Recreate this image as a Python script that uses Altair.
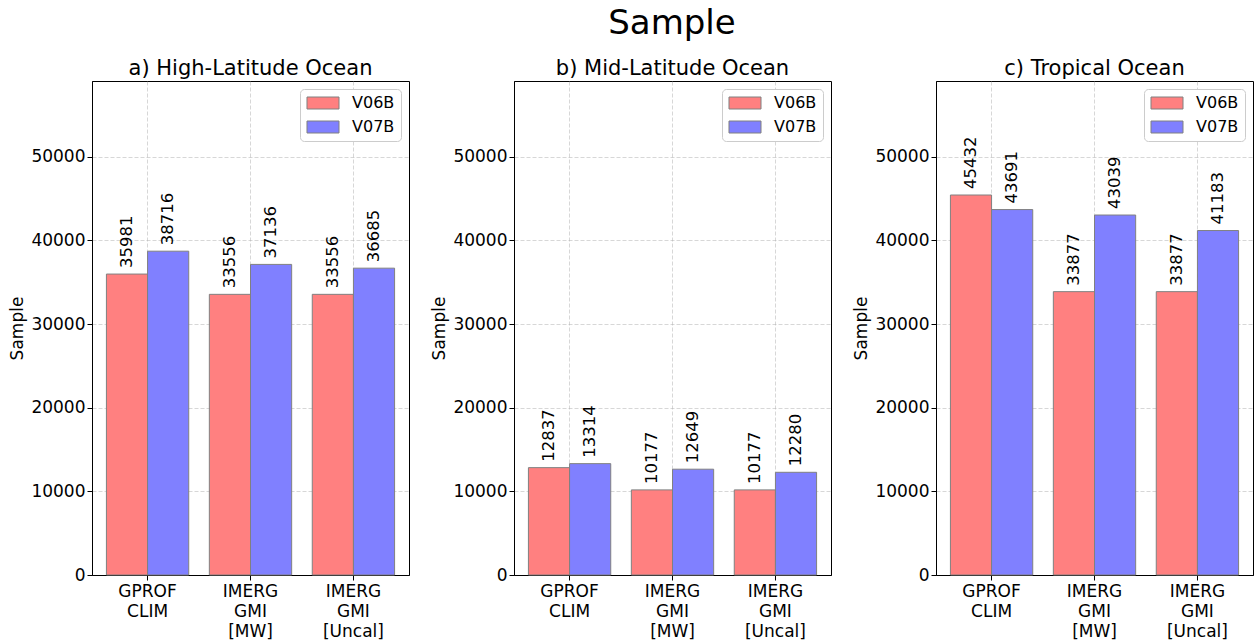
import altair as alt
import pandas as pd

FONT = "DejaVu Sans"

regions = ["a) High-Latitude Ocean", "b) Mid-Latitude Ocean", "c) Tropical Ocean"]
products = ["GPROF\nCLIM", "IMERG\nGMI\n[MW]", "IMERG\nGMI\n[Uncal]"]
versions = ["V06B", "V07B"]
v06b = [
    [35981, 33556, 33556],
    [12837, 10177, 10177],
    [45432, 33877, 33877],
]
v07b = [
    [38716, 37136, 36685],
    [13314, 12649, 12280],
    [43691, 43039, 41183],
]
y_ticks = [0, 10000, 20000, 30000, 40000, 50000]
y_max = 59062
colors = ["#ff8080", "#8080ff"]


def panel(i):
    rows = []
    for j, p in enumerate(products):
        rows.append({"product": p, "version": versions[0], "value": v06b[i][j]})
        rows.append({"product": p, "version": versions[1], "value": v07b[i][j]})
    df = pd.DataFrame(rows)
    base = alt.Chart(df).encode(
        x=alt.X(
            "product:N",
            sort=products,
            scale=alt.Scale(paddingInner=0.2, paddingOuter=0.14),
            axis=alt.Axis(
                title=None,
                labelAngle=0,
                labelExpr="split(datum.label, '\\n')",
                bandPosition=0.5,
                labelLineHeight=20,
                labelPadding=3,
                labelBaseline="top",
            ),
        ),
        xOffset=alt.XOffset("version:N", sort=versions),
        y=alt.Y(
            "value:Q",
            scale=alt.Scale(domain=[0, y_max], nice=False),
            axis=alt.Axis(values=y_ticks, title="Sample", format="d", titlePadding=4),
        ),
    )
    bars = base.mark_bar(stroke="#808080", strokeWidth=1).encode(
        color=alt.Color(
            "version:N",
            scale=alt.Scale(domain=versions, range=colors),
            legend=alt.Legend(
                title=None,
                orient="top-right",
                offset=8,
                symbolType="M-2.667,-1H2.667V1H-2.667Z",
                symbolSize=144,
                symbolOffset=9,
                symbolStrokeColor="#808080",
                symbolStrokeWidth=1,
                symbolOpacity=1,
                labelFontSize=16,
                labelFont=FONT,
                labelColor="black",
                labelOffset=21,
                fillColor="white",
                strokeColor="#cccccc",
                cornerRadius=4,
                padding=6,
                rowPadding=8,
            ),
        )
    )
    text = base.mark_text(
        angle=270, align="left", baseline="middle", dx=6, fontSize=16.5, font=FONT, color="black"
    ).encode(text=alt.Text("value:Q", format="d"))
    return alt.layer(bars, text).properties(
        width=317,
        height=494,
        title=alt.TitleParams(regions[i], fontSize=21, font=FONT, fontWeight="normal",
                              anchor="middle", frame="group", offset=2, color="black"),
    )


chart = (
    alt.hconcat(*[panel(i) for i in range(3)], spacing=20)
    .resolve_legend(color="independent")
    .properties(
        title=alt.TitleParams("Sample", fontSize=34, font=FONT, fontWeight="normal",
                              anchor="middle", dx=41, offset=17, color="black"),
        padding={"left": 8, "top": 6, "right": 4, "bottom": 0},
    )
    .configure_view(stroke="black", strokeWidth=1)
    .configure_axis(
        labelFont=FONT,
        labelFontSize=17,
        labelColor="black",
        titleFont=FONT,
        titleFontSize=17,
        titleFontWeight="normal",
        titleColor="black",
        domainColor="black",
        domainWidth=1,
        tickColor="black",
        tickSize=5,
        grid=True,
        gridColor="#b0b0b0",
        gridOpacity=0.5,
        gridDash=[4, 2],
        gridWidth=1,
        zindex=1,
    )
    .configure_legend(labelFont=FONT)
)

chart.save("out.html", embed_options={"renderer": "svg", "actions": False})
